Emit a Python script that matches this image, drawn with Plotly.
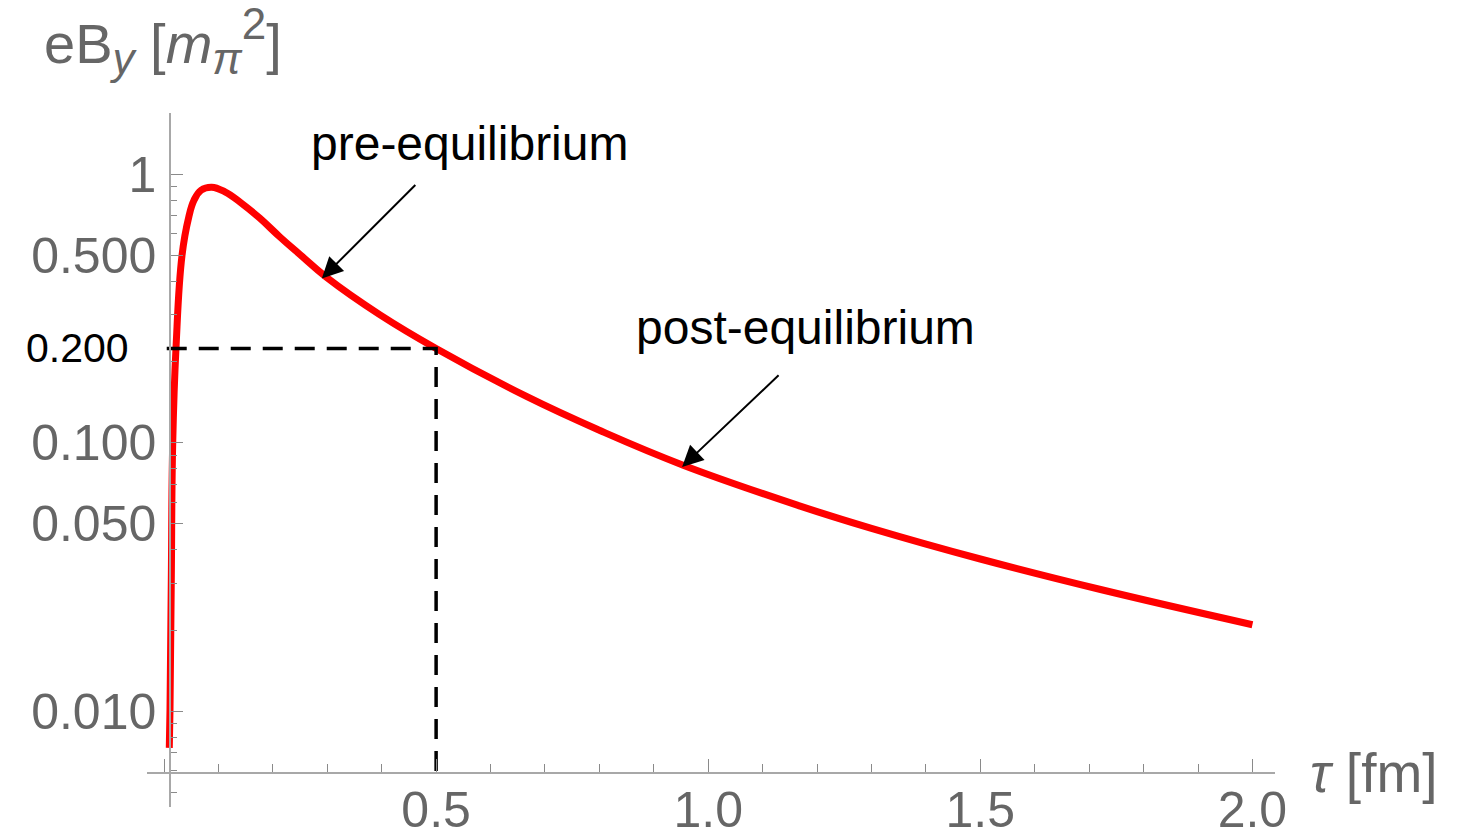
import math
import plotly.graph_objects as go

# Magnetic field eB_y versus proper time tau (log scale)
tau = [0.0097, 0.0110, 0.0134, 0.0160, 0.0221, 0.0331, 0.0456, 0.0551, 0.068,
       0.0877, 0.112, 0.140, 0.176, 0.213, 0.250, 0.299, 0.397, 0.500, 0.667,
       0.800, 0.954, 1.169, 1.300, 1.500, 1.721, 2.000]
eb_y = [0.0073, 0.0101, 0.0308, 0.0996, 0.227, 0.499, 0.694, 0.800, 0.872,
        0.895, 0.860, 0.787, 0.686, 0.584, 0.502, 0.4125, 0.2995, 0.2245, 0.1484,
        0.1113, 0.0825, 0.0581, 0.0480, 0.0369, 0.0284, 0.0210]

# Reference point marked with dashed guides
mark_tau = 0.5
mark_eb = 0.2245
mark_text = "0.200"

# Arrow targets on the curve
pre_tau, pre_eb = 0.290, 0.409
post_tau, post_eb = 0.952, 0.0813

# Axis ticks
x_major = [0.0, 0.5, 1.0, 1.5, 2.0]
x_major_text = ["", "0.5", "1.0", "1.5", "2.0"]
x_minor = [0.1, 0.2, 0.3, 0.4, 0.6, 0.7, 0.8, 0.9, 1.1, 1.2, 1.3, 1.4,
           1.6, 1.7, 1.8, 1.9]
y_major = [0.01, 0.05, 0.1, 0.5, 1.0]
y_major_text = ["0.010", "0.050", "0.100", "0.500", "1"]
y_minor = [0.005, 0.006, 0.007, 0.008, 0.009, 0.02, 0.03, 0.04, 0.06, 0.07,
           0.08, 0.09, 0.2, 0.3, 0.4, 0.6, 0.7, 0.8, 0.9]

# Plot-area geometry (pixels)
W, H = 1460, 836
L, R, T, B = 147, 1274.6, 112.7, 807.0
x_range = [-0.03125, 2.0415]
y_range = [-2.3567, 0.2282]
x_axis_val = 10 ** -2.2286     # where the tau axis crosses
guide_start = 0.005


def px(xp):
    return (xp - L) / (R - L)


def py(yp):
    return (B - yp) / (B - T)


FONT = "Liberation Sans, Arial, Helvetica, sans-serif"
GRAY = "#666666"
TICK = "#8a8a8a"

fig = go.Figure()

fig.add_trace(go.Scatter(
    x=tau, y=eb_y, mode="lines",
    line=dict(color="#ff0000", width=7, shape="spline", smoothing=1.2),
    hoverinfo="skip", showlegend=False,
))

# dashed guides to the marked point
fig.add_trace(go.Scatter(
    x=[guide_start, mark_tau, mark_tau],
    y=[mark_eb, mark_eb, x_axis_val],
    mode="lines",
    line=dict(color="black", width=3.5, dash="20px,12px"),
    hoverinfo="skip", showlegend=False,
))

axis_common = dict(
    showgrid=False, zeroline=False, showline=True,
    linecolor="#a8a8a8", linewidth=1.5,
    ticks="inside", tickcolor=TICK, tickwidth=1.3,
    tickfont=dict(family=FONT, size=50, color=GRAY),
    automargin=False, anchor="free",
)

fig.update_layout(
    width=W, height=H,
    margin=dict(l=L, r=W - R, t=T, b=H - B),
    paper_bgcolor="white", plot_bgcolor="white",
    showlegend=False,
    xaxis=dict(
        axis_common, range=x_range, domain=[0, 1],
        position=py(772.7),
        tickmode="array", tickvals=x_major, ticktext=x_major_text, ticklen=13,
        ticklabelstandoff=-6,
        minor=dict(tickmode="array", tickvals=x_minor, ticks="inside",
                   ticklen=8, tickcolor=TICK, tickwidth=1.3, showgrid=False),
    ),
    yaxis=dict(
        axis_common, type="log", range=y_range, domain=[0, 1],
        position=px(170),
        tickmode="array", tickvals=y_major, ticktext=y_major_text, ticklen=12,
        ticklabelstandoff=3,
        minor=dict(tickmode="array", tickvals=y_minor, ticks="inside",
                   ticklen=6, tickcolor=TICK, tickwidth=1.3, showgrid=False),
    ),
)

sub_style = 'style="font-size:44px"'
y_title = (f'eB<sub><span {sub_style}><i>y</i></span></sub> '
           f'[<i>m</i><sub><span {sub_style}><i>π</i></span></sub>'
           f'<sup><span {sub_style}>2</span></sup>]')

annotations = [
    # axis titles
    dict(text=y_title,
         xref="paper", yref="paper", x=px(42), y=py(41),
         xanchor="left", yanchor="middle", showarrow=False,
         font=dict(family=FONT, size=56, color=GRAY)),
    dict(text="<i>τ</i> [fm]",
         xref="paper", yref="paper", x=px(1308), y=py(773),
         xanchor="left", yanchor="middle", showarrow=False,
         font=dict(family=FONT, size=55, color=GRAY)),
    # label of the dashed guide
    dict(text=mark_text, xref="paper", yref="y", x=px(131), y=math.log10(mark_eb),
         xanchor="right", yanchor="middle", showarrow=False,
         font=dict(family=FONT, size=41, color="black")),
    # phase labels
    dict(text="pre-equilibrium", xref="paper", yref="paper", x=px(469), y=py(143),
         xanchor="center", yanchor="middle", showarrow=False,
         font=dict(family=FONT, size=48, color="black")),
    dict(text="post-equilibrium", xref="paper", yref="paper", x=px(805), y=py(327),
         xanchor="center", yanchor="middle", showarrow=False,
         font=dict(family=FONT, size=48, color="black")),
    # arrows
    dict(x=pre_tau, y=math.log10(pre_eb), xref="x", yref="y", text="",
         showarrow=True, ax=95, ay=-95, axref="pixel", ayref="pixel",
         arrowhead=2, arrowsize=2.1, arrowwidth=2, arrowcolor="black", standoff=0),
    dict(x=post_tau, y=math.log10(post_eb), xref="x", yref="y", text="",
         showarrow=True, ax=98, ay=-93, axref="pixel", ayref="pixel",
         arrowhead=2, arrowsize=2.1, arrowwidth=2, arrowcolor="black", standoff=0),
]
fig.update_layout(annotations=annotations)

fig.write_html("out.html")
